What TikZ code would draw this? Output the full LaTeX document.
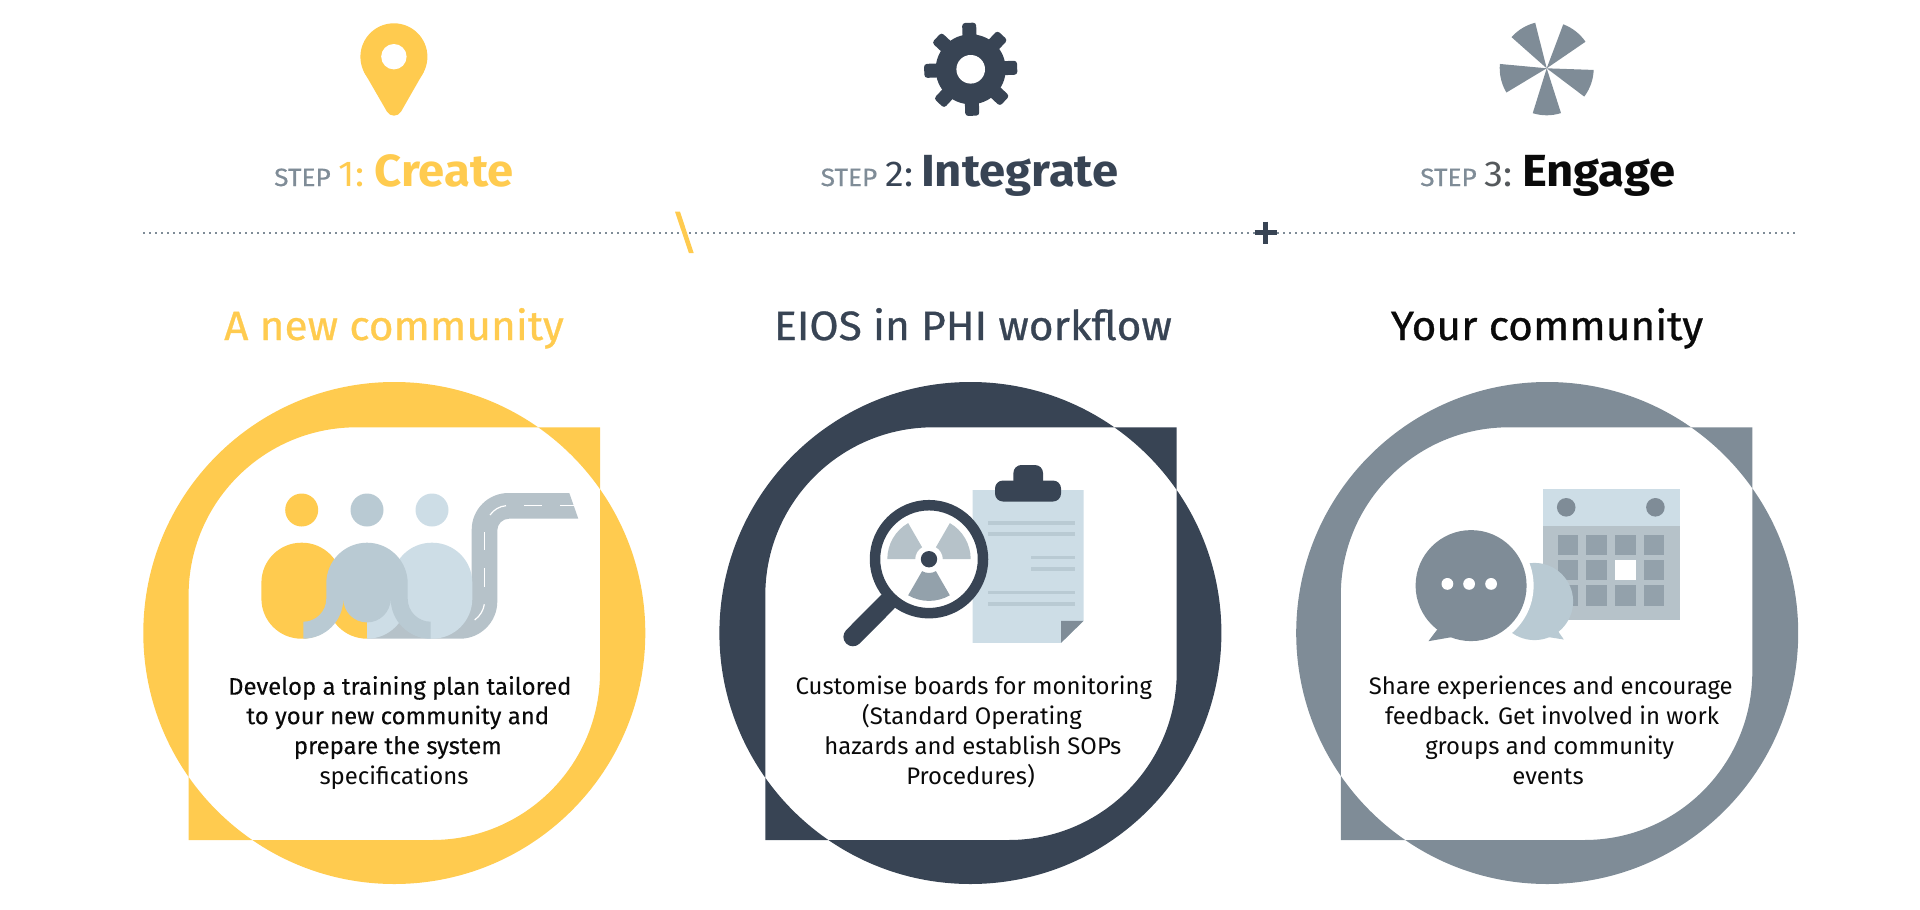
\documentclass[tikz,border=0pt]{standalone}
\usepackage{fontspec}
\setmainfont{Fira Sans}
\newfontfamily\headFont[FakeStretch=1.05]{Fira Sans}
\newfontfamily\stepFont[FakeStretch=1.05,FakeBold=0.5]{Fira Sans}
\newfontfamily\titleFont[FakeStretch=1.035,FakeBold=0.7]{Fira Sans}
\newfontfamily\mediumFont[FakeBold=0.25]{Fira Sans}
\usepackage{xcolor}
\usepackage{tikz}
\definecolor{customYellow}{HTML}{FFCB4F}
\definecolor{customDark}{HTML}{384454}
\definecolor{customGrey}{HTML}{7F8C97}
\definecolor{customCell}{HTML}{93A1AB}
\definecolor{customRoad}{HTML}{B6C2C9}
\definecolor{customMid}{HTML}{B9CAD3}
\definecolor{customLight}{HTML}{CDDDE6}
\definecolor{customInk}{HTML}{0A0A0A}
\definecolor{customThree}{HTML}{55595C}

\begin{document}
\begin{tikzpicture} [
    x=1pt, y=-1pt,
    stepLabel/.style={anchor=base west, inner sep=0pt},
    titleLabel/.style={anchor=base, inner sep=0pt, font=\titleFont\fontsize{41}{48}\selectfont},
    bodyLabel/.style={anchor=base, inner sep=0pt, text=customInk, font=\fontsize{23.9}{29}\selectfont},
    bodyStrong/.style={anchor=base, inner sep=0pt, text=customInk, font=\mediumFont\fontsize{23.9}{29}\selectfont},
    head/.style={circle, inner sep=0pt, minimum size=33pt},
    torso/.style={rectangle, inner sep=0pt, minimum width=80.6pt, minimum height=96pt, rounded corners=40pt},
    paperLine/.style={rectangle, inner sep=0pt, minimum height=3.7pt, fill=customMid},
    calCell/.style={rectangle, inner sep=0pt, minimum size=20.7pt, fill=customCell},
    calHole/.style={circle, inner sep=0pt, minimum size=18.6pt, fill=customGrey},
    talkDot/.style={circle, inner sep=0pt, minimum size=11.8pt, fill=white},
    gearTooth/.style={rectangle, inner sep=0pt, minimum width=22pt, minimum height=14pt, rounded corners=3pt, fill=customDark},
    roadDash/.style={white, line width=1.2pt}
]
    \useasboundingbox (0,0) rectangle (1920,910);

    % top icons
    \fill[customYellow] (393.9,56.8) circle[radius=33.5];
    \fill[customYellow] (363.9,71.7) -- (387,111.7) .. controls (390,117) and (398,117) .. (401,111.7) -- (423.9,71.7) -- cycle;
    \node[circle, inner sep=0pt, minimum size=25.4pt, fill=white] (pinHole) at (393.9,56.7) {};

    \node[circle, inner sep=0pt, minimum size=70pt, fill=customDark] (gearHub) at (970.7,69.3) {};
    \node[gearTooth, rotate=92] (toothA) at ([shift={(268:35.5)}]gearHub.center) {};
    \node[gearTooth, rotate=47] (toothB) at ([shift={(313:35.5)}]gearHub.center) {};
    \node[gearTooth, rotate=2] (toothC) at ([shift={(358:35.5)}]gearHub.center) {};
    \node[gearTooth, rotate=-43] (toothD) at ([shift={(43:35.5)}]gearHub.center) {};
    \node[gearTooth, rotate=-88] (toothE) at ([shift={(88:35.5)}]gearHub.center) {};
    \node[gearTooth, rotate=-133] (toothF) at ([shift={(133:35.5)}]gearHub.center) {};
    \node[gearTooth, rotate=-178] (toothG) at ([shift={(178:35.5)}]gearHub.center) {};
    \node[gearTooth, rotate=-223] (toothH) at ([shift={(223:35.5)}]gearHub.center) {};
    \node[circle, inner sep=0pt, minimum size=28.6pt, fill=white] (gearHole) at (970.7,69.3) {};

    \fill[customGrey] (1546.7,68.3) -- ++(221.5:47) arc[start angle=221.5, end angle=255.8, radius=47] -- cycle;
    \fill[customGrey] (1546.7,68.3) -- ++(290.6:47) arc[start angle=290.6, end angle=325.6, radius=47] -- cycle;
    \fill[customGrey] (1546.7,68.3) -- ++(2:47) arc[start angle=2, end angle=37, radius=47] -- cycle;
    \fill[customGrey] (1546.7,68.3) -- ++(72.3:47) arc[start angle=72.3, end angle=107.3, radius=47] -- cycle;
    \fill[customGrey] (1546.7,68.3) -- ++(149:47) arc[start angle=149, end angle=185.3, radius=47] -- cycle;

    % step labels
    \node[stepLabel] (stepOne) at (274,186) {{\stepFont\fontsize{25}{30}\selectfont\color{customGrey}STEP}\hspace{8pt}{\headFont\fontsize{36}{40}\selectfont\color{customYellow}1:}\hspace{10.6pt}{\headFont\fontsize{45}{50}\selectfont\bfseries\color{customYellow}Create}};
    \node[stepLabel] (stepTwo) at (820.5,186) {{\stepFont\fontsize{25}{30}\selectfont\color{customGrey}STEP}\hspace{8pt}{\headFont\fontsize{36}{40}\selectfont\color{customDark}2:}\hspace{8pt}{\headFont\fontsize{45}{50}\selectfont\bfseries\color{customDark}Integrate}};
    \node[stepLabel] (stepThree) at (1420,186) {{\stepFont\fontsize{25}{30}\selectfont\color{customGrey}STEP}\hspace{8pt}{\headFont\fontsize{36}{40}\selectfont\color{customThree}3:}\hspace{9.3pt}{\headFont\fontsize{45}{50}\selectfont\bfseries\color{customInk}Engage}};

    % divider
    \draw[customGrey, line width=1.6pt, dash pattern=on 1.6pt off 4.4pt] (143.3,232.7) -- (1798.8,232.7);
    \fill[customYellow] (675,211.7) -- (680,211.7) -- (693.7,253) -- (688.9,253) -- cycle;
    \draw[customDark, line width=4.5pt] (1254.7,232.7) -- (1276.5,232.7);
    \draw[customDark, line width=4.5pt] (1265.6,221.7) -- (1265.6,243.7);

    % titles
    \node[titleLabel, text=customYellow] (titleOne) at (394,340) {A new community};
    \node[titleLabel, text=customDark] (titleTwo) at (973,340) {EIOS in PHI workflow};
    \node[titleLabel, text=customInk] (titleThree) at (1547,340) {Your community};

    % 1
    \fill[customYellow, even odd rule] (394.3,633) circle[radius=251]
        (188.6,840) -- (188.6,595.3) arc[start angle=180, end angle=270, radius=168] -- (600,427.3) -- (600,672) arc[start angle=0, end angle=90, radius=168] -- cycle;

    \node[head, fill=customYellow] (headA) at (301.7,510) {};
    \node[head, fill=customMid] (headB) at (367,510) {};
    \node[head, fill=customLight] (headC) at (432,510) {};

    \fill[customRoad] (471.7,529.7) arc[start angle=180, end angle=270, radius=36.7] -- (569.3,493) -- (578.3,518.7) -- (509,518.7) arc[start angle=270, end angle=180, radius=11.7] -- (497.3,601.4) arc[start angle=0, end angle=90, radius=37.3] -- (367,638.7) -- (367,600) -- (471.7,600) -- cycle;
    \draw[roadDash] (490,515) .. controls (494,509.5) and (499.5,506.3) .. (506,505.7);
    \draw[roadDash] (524,505.7) -- (542.3,505.7);
    \draw[roadDash] (560,505.7) -- (575,505.7);
    \draw[roadDash] (484.3,532) -- (484.3,550);
    \draw[roadDash] (484.3,568.3) -- (484.3,586.7);
    \draw[roadDash] (484.3,604.3) .. controls (483.5,610) and (480.5,615.5) .. (474.7,620);

    \node[torso, fill=customLight] (torsoC) at (432,590.7) {};
    \node[torso, fill=customYellow] (torsoA) at (301.7,590.7) {};
    \fill[customYellow] (367,638.7) arc[start angle=90, end angle=180, radius=40.3] -- (367,598.4) -- cycle;
    \fill[customLight] (367,638.7) arc[start angle=90, end angle=0, radius=40.3] -- (367,598.4) -- cycle;
    \fill[customMid] (326.3,583.4) -- (326.3,598.7) arc[start angle=0, end angle=90, radius=23] -- (303.3,638.7) arc[start angle=90, end angle=0, radius=40] arc[start angle=180, end angle=0, radius=23.7] arc[start angle=180, end angle=90, radius=40] -- (430.7,621.7) arc[start angle=90, end angle=180, radius=23] -- (407.7,583.4) arc[start angle=360, end angle=180, radius=40.7] -- cycle;

    \node[bodyStrong] (bodyOneA) at (399.8,694.7) {Develop a training plan tailored};
    \node[bodyStrong] (bodyOneB) at (397.8,724.2) {to your new community and};
    \node[bodyStrong] (bodyOneC) at (397.8,754) {prepare the system};
    \node[bodyLabel] (bodyOneD) at (394,784) {specifications};

    % 2
    \fill[customDark, even odd rule] (970.4,633) circle[radius=251]
        (765.3,840) -- (765.3,595.3) arc[start angle=180, end angle=270, radius=168] -- (1176.7,427.3) -- (1176.7,672) arc[start angle=0, end angle=90, radius=168] -- cycle;

    \fill[customLight] (972.7,490) -- (1083.6,490) -- (1083.6,620.8) -- (1061,642.9) -- (972.7,642.9) -- cycle;
    \fill[customGrey] (1083.6,620.8) -- (1061,620.8) -- (1061,642.9) -- cycle;
    \node[rectangle, inner sep=0pt, minimum width=66pt, minimum height=21pt, rounded corners=8pt, fill=customDark] (clipBase) at (1028,491) {};
    \node[rectangle, inner sep=0pt, minimum width=29.6pt, minimum height=24pt, rounded corners=8pt, fill=customDark] (clipTop) at (1028.2,477) {};
    \node[paperLine, minimum width=87pt] (lineA) at (1031.5,522.9) {};
    \node[paperLine, minimum width=87pt] (lineB) at (1031.5,534) {};
    \node[paperLine, minimum width=43.7pt] (lineC) at (1053.2,557.5) {};
    \node[paperLine, minimum width=43.7pt] (lineD) at (1053.2,569.3) {};
    \node[paperLine, minimum width=87pt] (lineE) at (1031.5,592.4) {};
    \node[paperLine, minimum width=87pt] (lineF) at (1031.5,603.9) {};

    \draw[customDark, line width=19pt, line cap=round] (887.3,602.2) -- (852.9,636.8);
    \node[circle, inner sep=0pt, minimum size=108pt, draw=customDark, line width=10.5pt, fill=white] (lens) at (929,559.2) {};
    \fill[customRoad] (929,559.2) ++(180:41.7) arc[start angle=180, end angle=240, radius=41.7] -- ++(60:27.9) arc[start angle=240, end angle=180, radius=13.8] -- cycle;
    \fill[customRoad] (929,559.2) ++(300:41.7) arc[start angle=300, end angle=360, radius=41.7] -- ++(180:27.9) arc[start angle=360, end angle=300, radius=13.8] -- cycle;
    \fill[customCell] (929,559.2) ++(60:41.7) arc[start angle=60, end angle=120, radius=41.7] -- ++(300:27.9) arc[start angle=120, end angle=60, radius=13.8] -- cycle;
    \node[circle, inner sep=0pt, minimum size=16.4pt, fill=customDark] (lensDot) at (929,559.2) {};

    \node[bodyLabel] (bodyTwoA) at (973.8,694.7) {Customise boards for monitoring};
    \node[bodyLabel] (bodyTwoB) at (972,724.2) {(Standard Operating};
    \node[bodyLabel] (bodyTwoC) at (972.8,754) {hazards and establish SOPs};
    \node[bodyLabel] (bodyTwoD) at (970.5,784) {Procedures)};

    % 3
    \fill[customGrey, even odd rule] (1547.2,633) circle[radius=251]
        (1340.8,840) -- (1340.8,595.3) arc[start angle=180, end angle=270, radius=168] -- (1752.3,427.3) -- (1752.3,672) arc[start angle=0, end angle=90, radius=168] -- cycle;

    \fill[customRoad] (1543,525.6) rectangle (1679.8,619.5);
    \fill[customLight] (1543,488.6) rectangle (1679.8,525.6);
    \node[calHole] (holeA) at (1566.2,507.3) {};
    \node[calHole] (holeB) at (1655.4,507.3) {};
    \node[calCell] (cellAA) at (1567.9,545) {};
    \node[calCell] (cellAB) at (1596.4,545) {};
    \node[calCell] (cellAC) at (1625.3,545) {};
    \node[calCell] (cellAD) at (1654,545) {};
    \node[calCell] (cellBA) at (1567.9,570.1) {};
    \node[calCell] (cellBB) at (1596.4,570.1) {};
    \node[calCell, fill=white] (cellBC) at (1625.3,570.1) {};
    \node[calCell] (cellBD) at (1654,570.1) {};
    \node[calCell] (cellCA) at (1567.9,595.6) {};
    \node[calCell] (cellCB) at (1596.4,595.6) {};
    \node[calCell] (cellCC) at (1625.3,595.6) {};
    \node[calCell] (cellCD) at (1654,595.6) {};

    \fill[customMid] (1534.5,601.5) circle[radius=38.6];
    \fill[customMid] (1557.9,631) -- (1563.8,639.5) -- (1546.5,636.8) -- cycle;
    \fill[white] (1471.1,585.6) circle[radius=62.5];
    \fill[customGrey] (1471.1,585.6) circle[radius=55.5];
    \fill[customGrey] (1437.4,629.3) -- (1428.4,641.2) -- (1451.8,637.1) -- cycle;
    \node[talkDot] (dotA) at (1447.4,583.9) {};
    \node[talkDot] (dotB) at (1469.1,583.9) {};
    \node[talkDot] (dotC) at (1491.1,583.9) {};

    \node[bodyLabel] (bodyThreeA) at (1550.8,694.7) {Share experiences and encourage};
    \node[bodyLabel] (bodyThreeB) at (1552,724.2) {feedback. Get involved in work};
    \node[bodyLabel] (bodyThreeC) at (1549.7,754) {groups and community};
    \node[bodyLabel] (bodyThreeD) at (1548,784) {events};
\end{tikzpicture}
\end{document}
